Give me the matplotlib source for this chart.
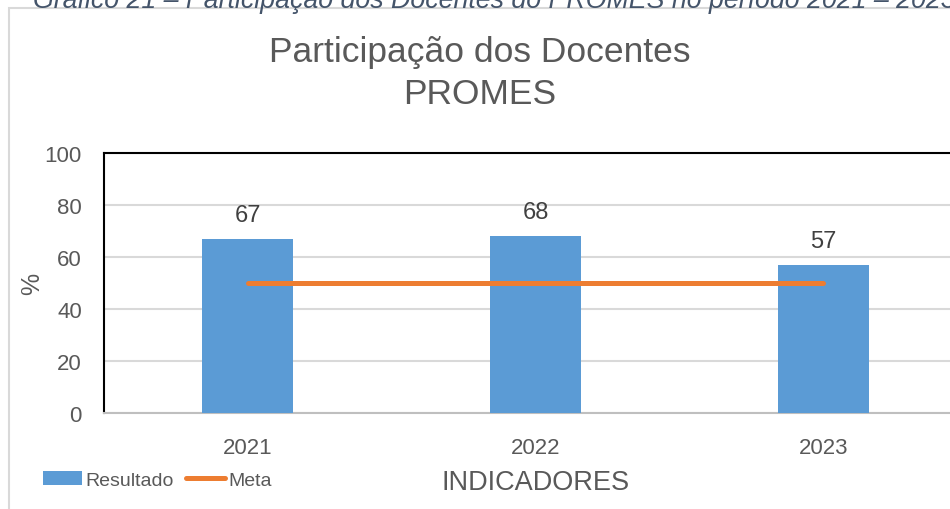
import matplotlib.pyplot as plt
from matplotlib.patches import Rectangle

plt.rcParams['font.family'] = ['Liberation Sans', 'DejaVu Sans']

anos = ['2021', '2022', '2023']
resultado = [67, 68, 57]
meta = [50, 50, 50]

W, H = 950, 510
fig = plt.figure(figsize=(W / 100, H / 100), dpi=100)

# moldura cinza do gráfico (cortada à direita e embaixo)
fig.patches.append(Rectangle((9 / W, -0.05), 1.2, 1 - 9 / H + 0.05,
                             transform=fig.transFigure, fill=False,
                             edgecolor='#d9d9d9', linewidth=1.5))

# legenda do documento, cortada no topo
fig.text(33 / W, 1 - 8 / H,
         'Gráfico 21 – Participação dos Docentes do PROMES no período 2021 – 2023',
         fontsize=19.3, style='italic', color='#44546a', va='baseline', ha='left')

# título do gráfico
fig.text(480 / W, 1 - 62 / H, 'Participação dos Docentes', ha='center',
         va='baseline', fontsize=25.5, color='#595959')
fig.text(480 / W, 1 - 104 / H, 'PROMES', ha='center',
         va='baseline', fontsize=25.5, color='#595959')

ax = fig.add_axes([104 / W, 1 - 414 / H, 863 / W, 260 / H])
x = list(range(len(anos)))
bars = ax.bar(x, resultado, width=0.316, color='#5b9bd5', label='Resultado', zorder=3)
line, = ax.plot(x, meta, color='#ed7d31', linewidth=3.6, solid_capstyle='round',
                label='Meta', zorder=4)

for xi, v in zip(x, resultado):
    ax.text(xi, v + 5, str(v), ha='center', va='bottom', fontsize=17,
            color='#404040')

ax.set_xlim(-0.5, 2.5)
ax.set_ylim(0, 100)
ax.set_yticks(range(0, 101, 20))
ax.set_xticks(x)
ax.set_xticklabels(anos)
ax.tick_params(axis='both', length=0, labelsize=16, labelcolor='#595959')
ax.tick_params(axis='y', pad=16)
ax.tick_params(axis='x', pad=17)
ax.grid(axis='y', color='#d9d9d9', linewidth=1.5, zorder=0)
ax.set_axisbelow(True)

ax.spines['left'].set_color('black')
ax.spines['left'].set_linewidth(1.5)
ax.spines['top'].set_color('black')
ax.spines['top'].set_linewidth(1.5)
ax.spines['right'].set_visible(False)
ax.spines['bottom'].set_color('#bfbfbf')
ax.spines['bottom'].set_linewidth(1.5)

ax.set_ylabel('%', fontsize=18, color='#595959')
ax.yaxis.set_label_coords(-0.0694, 0.5)
ax.set_xlabel('INDICADORES', fontsize=19.5, color='#595959')
ax.xaxis.set_label_coords(0.5, (1 - 470 / H - (1 - 414 / H)) / (260 / H))

fig.legend([bars, line], ['Resultado', 'Meta'], loc='center left',
           bbox_to_anchor=(43 / W, 1 - 481 / H), ncol=2, frameon=False,
           fontsize=14, labelcolor='#595959', handlelength=2.0,
           handletextpad=0.2, columnspacing=0.6, borderaxespad=0, borderpad=0)

fig.savefig('out.png', dpi=100)
